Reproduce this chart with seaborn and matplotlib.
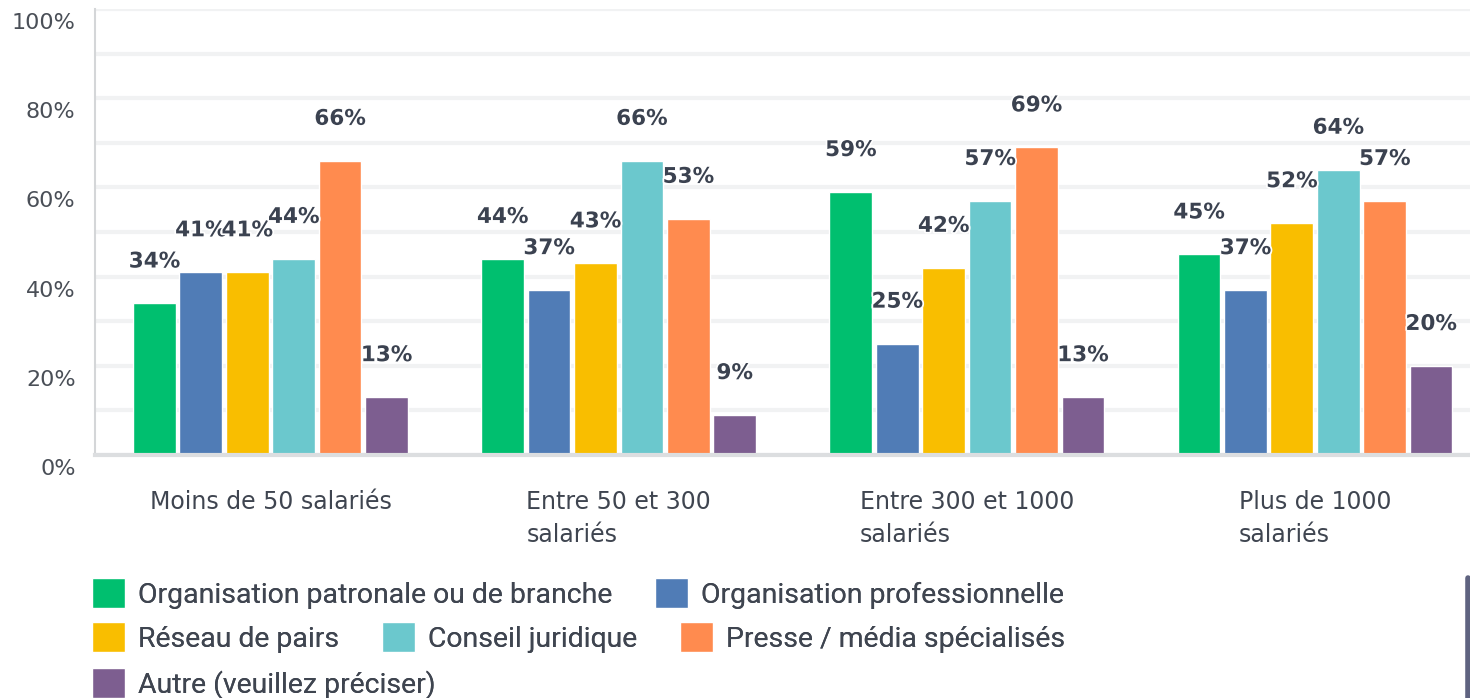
import pandas as pd
import seaborn as sns
import matplotlib.pyplot as plt
import matplotlib.patheffects as pe
from matplotlib.transforms import ScaledTranslation
from matplotlib.lines import Line2D

categories = ['Moins de 50 salariés', 'Entre 50 et 300\nsalariés',
              'Entre 300 et 1000\nsalariés', 'Plus de 1000\nsalariés']
series = ['Organisation patronale ou de branche', 'Organisation professionnelle',
          'Réseau de pairs', 'Conseil juridique', 'Presse / média spécialisés',
          'Autre (veuillez préciser)']
patronale = [34, 44, 59, 45]
professionnelle = [41, 37, 25, 37]
pairs = [41, 43, 42, 52]
juridique = [44, 66, 57, 64]
presse = [66, 53, 69, 57]
autre = [13, 9, 13, 20]
colors = ['#00bf6f', '#507cb6', '#f9be00', '#6bc8cd', '#ff8b4f', '#7d5e90']

values = [patronale, professionnelle, pairs, juridique, presse, autre]
rows = []
for s, vals in zip(series, values):
    for c, v in zip(categories, vals):
        rows.append({'categorie': c, 'source': s, 'pct': v})
df = pd.DataFrame(rows)

sns.set_style('white')
plt.rcParams['font.family'] = ['DejaVu Sans']

fig = plt.figure(figsize=(14.7, 6.98), dpi=100)
ax = fig.add_axes([0.0646, 0.348, 0.9354, 0.639])

sns.barplot(data=df, x='categorie', y='pct', hue='source', order=categories,
            hue_order=series, palette=colors, width=0.8, gap=0.08,
            saturation=1, ax=ax)

handles, labels = ax.get_legend_handles_labels()
ax.get_legend().remove()

for cont in ax.containers:
    ax.bar_label(cont, fmt='{:.0f}%', padding=23, fontsize=15.5, fontweight='bold',
                 color='#3b4250',
                 path_effects=[pe.withStroke(linewidth=2.5, foreground='white')])

ax.set_ylim(0, 100)
ax.set_xlim(-0.504, 3.445)
ax.set_yticks(range(0, 101, 20))
ax.set_yticks(range(10, 100, 20), minor=True)
ax.set_yticklabels([f'{v}%' for v in range(0, 101, 20)])
ax.grid(axis='y', which='both', color='#f1f2f3', lw=3)
ax.set_axisbelow(True)
ax.tick_params(axis='y', which='both', length=0, pad=14, labelsize=16, labelcolor='#4a4f57')
ax.tick_params(axis='x', length=0, pad=25, labelsize=17, labelcolor='#3f4550')
for lab in ax.get_yticklabels():
    lab.set_transform(lab.get_transform() + ScaledTranslation(0, -0.12, fig.dpi_scale_trans))
for lab in ax.get_xticklabels():
    lab.set_multialignment('left')
    lab.set_verticalalignment('top')
    lab.set_linespacing(1.5)
ax.set_xlabel('')
ax.set_ylabel('')

for side in ['top', 'right']:
    ax.spines[side].set_visible(False)
ax.spines['left'].set_color('#d4d6d8')
ax.spines['left'].set_linewidth(1.5)
ax.spines['bottom'].set_color('#dcdee0')
ax.spines['bottom'].set_linewidth(3)

# legend laid out in three rows, like the original flow layout
fs = 20.4
em = fs * 100 / 72
row_groups = [[0, 1], [2, 3, 4], [5]]
row_y = [0.150, 0.087, 0.021]
for idx, y in zip(row_groups, row_y):
    leg = fig.legend([handles[i] for i in idx], [labels[i] for i in idx],
                     loc='center left', bbox_to_anchor=(0.0626, y), ncol=len(idx),
                     frameon=False, handlelength=33 / em, handleheight=36 / em,
                     handletextpad=13 / em, columnspacing=43 / em, borderpad=0,
                     borderaxespad=0, labelcolor='#3f4550',
                     prop={'family': 'Roboto', 'size': fs})
    fig.add_artist(leg)

fig.add_artist(Line2D([0.9985, 0.9985], [0.0, 0.172], transform=fig.transFigure,
                      color='#5f6380', lw=4))

fig.savefig('out.png', dpi=100)
